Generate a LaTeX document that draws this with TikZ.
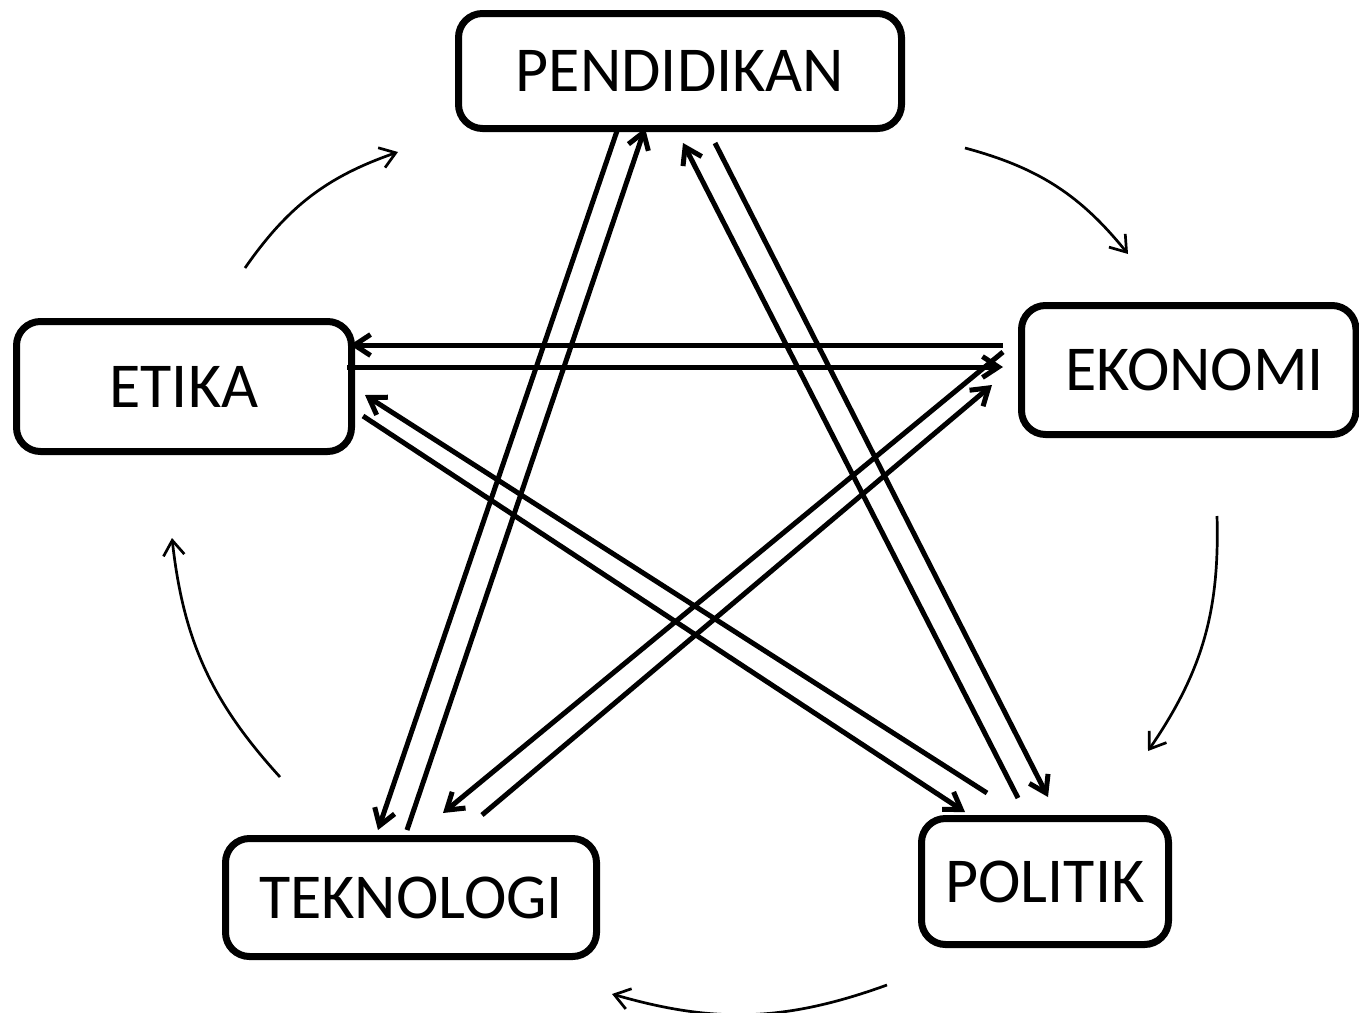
\documentclass[tikz,border=0pt]{standalone}
\usepackage{fontspec}
\setmainfont{Carlito}
\usetikzlibrary{arrows.meta,calc}

\begin{document}
\begin{tikzpicture}[
  x=0.5pt, y=-0.5pt,
  box/.style={draw, line width=3.5pt, rounded corners=12pt, inner sep=0pt,
    font=\fontsize{32}{36}\selectfont},
  link/.style={line width=2.5pt, -{Straight Barb[length=8pt,width=10.5pt]}},
  flow/.style={line width=1.35pt, -{Straight Barb[length=7.5pt,width=10.5pt]}, bend left=18}
]
\useasboundingbox (0,0) rectangle (1359,1012);

\node[box, minimum width=221.5pt, minimum height=57.5pt] (pend) at (680,71) {PENDIDIKAN};
\node[box, minimum width=167.5pt, minimum height=65pt] (etika) at (184,386.5) {ETIKA};
\node[box, minimum width=167.25pt, minimum height=64.5pt] (ekonomi) at (1188.75,370) {\hspace{6pt}EKONOMI};
\node[box, minimum width=185.5pt, minimum height=59pt] (tekno) at (411,897.5) {TEKNOLOGI};
\node[box, minimum width=123.5pt, minimum height=63pt] (politik) at (1045,881.5) {POLITIK};

% star connections
\draw[link] ($(pend.south)+(-62,-4)$) -- ($(tekno.north)+(-33,-5)$);
\draw[link] ($(tekno.north)+(-4,-5)$) -- ($(pend.south)+(-35,-4)$);
\draw[link] ($(politik.north)+(-27,-17)$) -- ($(pend.south)+(3,11)$);
\draw[link] ($(pend.south)+(35,11)$) -- ($(politik.north)+(3,-18)$);
\draw[link] ($(ekonomi.west)+(-15,-25)$) -- ($(etika.east)+(-5,-41.5)$);
\draw[link] ($(etika.east)+(-8,-19.5)$) -- ($(ekonomi.west)+(-15,-3)$);
\draw[link] ($(ekonomi.west)+(-15,-18)$) -- ($(tekno.north)+(32,-22)$);
\draw[link] ($(tekno.north)+(71,-20)$) -- ($(ekonomi.west)+(-26,15)$);
\draw[link] ($(politik.north)+(-58,-22)$) -- ($(etika.east)+(10,8.5)$);
\draw[link] ($(etika.east)+(8,29.5)$) -- ($(politik.north)+(-80,-3)$);

% outer cycle
\coordinate (f1a) at (245,268);  \coordinate (f1b) at (398,152);
\coordinate (f2a) at (965,148);  \coordinate (f2b) at (1128,254);
\coordinate (f3a) at (1217,516); \coordinate (f3b) at (1148,751);
\coordinate (f4a) at (887,985);  \coordinate (f4b) at (612,994);
\coordinate (f5a) at (280,777);  \coordinate (f5b) at (172,538);

\foreach \i in {1,...,5} {
  \draw[flow] (f\i a) to (f\i b);
}

\end{tikzpicture}
\end{document}
